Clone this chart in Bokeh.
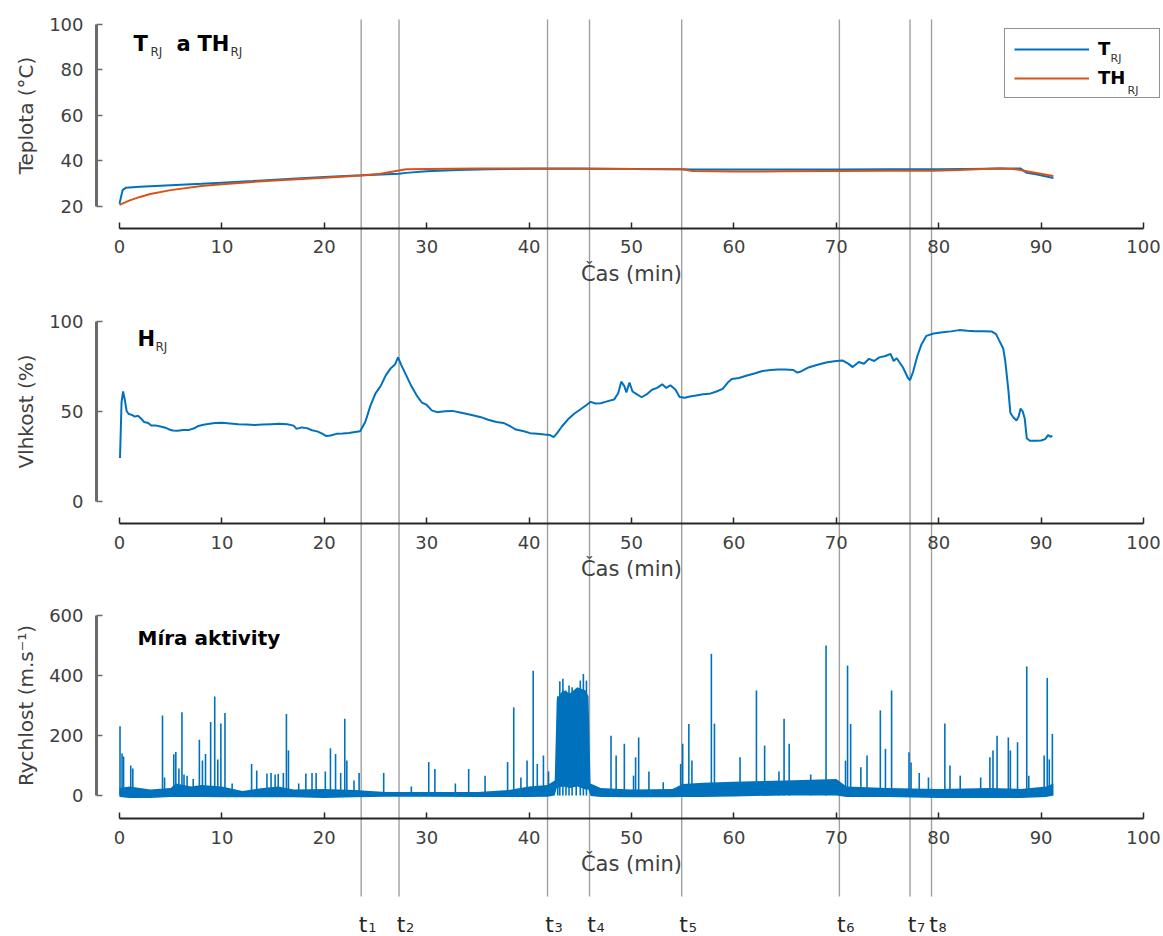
from bokeh.plotting import figure
from bokeh.models import Range1d, LinearAxis, FixedTicker, Label, Legend, LegendItem
from bokeh.core.properties import value
from bokeh.embed import file_html
from bokeh.resources import INLINE

# ---------------- data ----------------
x_ticks = [0, 10, 20, 30, 40, 50, 60, 70, 80, 90, 100]
temp_ticks = [20, 40, 60, 80, 100]
hum_ticks = [0, 50, 100]
act_ticks = [0, 200, 400, 600]

# event markers (min)
event_times = [23.6, 27.3, 41.8, 45.9, 54.9, 70.3, 77.2, 79.3]
event_labels = ["1", "2", "3", "4", "5", "6", "7", "8"]

# temperature T_RJ
t_rj_time = [0, 0.3, 0.6, 2, 5, 8, 10, 13, 16, 20, 23.6, 25, 27.3, 28, 30, 33, 36, 40, 45, 50,
             54.9, 56, 60, 65, 70, 75, 80, 85, 88, 88.6, 89.5, 91.2]
t_rj = [21, 27, 28, 28.5, 29.2, 29.8, 30.3, 31, 31.8, 32.8, 33.5, 33.8, 34.2, 34.6, 35.3, 35.9,
        36.2, 36.4, 36.4, 36.3, 36.2, 36.1, 36.1, 36.1, 36.1, 36.2, 36.2, 36.4, 36.5, 34.6, 34.0, 32.3]
# temperature TH_RJ
th_rj_time = [0, 0.5, 1, 2, 3, 5, 8, 10, 13, 16, 20, 23.6, 25.5, 27, 28, 30, 35, 40, 45, 50,
              54.9, 56, 60, 65, 70, 75, 79.5, 82, 86, 87.5, 89, 91.2]
th_rj = [20.5, 21.5, 22.5, 24, 25.3, 27, 28.8, 29.6, 30.6, 31.5, 32.5, 33.4, 34.2, 35.4, 36.2,
         36.3, 36.5, 36.5, 36.5, 36.3, 36.2, 35.4, 35.2, 35.3, 35.4, 35.5, 35.5, 35.9, 36.6, 36.2, 35, 33.2]

# humidity H_RJ
h_time = [0.05, 0.2, 0.35, 0.5, 0.7, 0.9, 1.2, 1.5, 1.8, 2.1, 2.4, 2.8, 3.1, 3.6, 4.0, 4.4, 4.8,
          5.2, 5.7, 6.2, 6.8, 7.3, 7.7, 8.2, 8.8, 9.3, 10.0, 10.8, 11.6, 12.4, 13.2, 14.0, 14.8,
          15.6, 16.4, 17.0, 17.3, 17.8, 18.3, 18.8, 19.3, 19.8, 20.2, 20.6, 21.2, 21.8, 22.4,
          23.0, 23.5, 24.0, 24.5, 25.0, 25.5, 26.0, 26.5, 26.9, 27.2, 27.5, 28.0, 28.5, 29.0,
          29.5, 30.0, 30.5, 31.0, 31.8, 32.5, 33.5, 34.5, 35.3, 36.0, 36.8, 37.5, 38.2, 38.7,
          39.4, 40.1, 40.8, 41.5, 42.0, 42.4, 42.7, 43.2, 43.8, 44.4, 45.0, 45.6, 46.0, 46.5,
          47.0, 47.6, 48.3, 48.7, 49.0, 49.3, 49.5, 49.8, 50.1, 50.5, 51.0, 51.5, 52.0, 52.5,
          53.0, 53.4, 53.8, 54.3, 54.7, 55.2, 55.7, 56.3, 57.0, 57.6, 58.3, 58.9, 59.4, 59.8,
          60.5, 61.2, 62.0, 62.8, 63.6, 64.3, 65.0, 65.8, 66.2, 66.6, 67.2, 68.0, 69.0, 69.8,
          70.6, 71.2, 71.6, 72.2, 72.7, 73.2, 73.7, 74.2, 74.8, 75.3, 75.6, 75.9, 76.5, 77.0,
          77.2, 77.5, 77.9, 78.3, 78.8, 79.5, 80.4, 81.2, 82.0, 82.8, 83.6, 84.4, 85.2, 85.6,
          85.9, 86.3, 86.5, 86.8, 87.0, 87.3, 87.6, 87.8, 88.0, 88.2, 88.4, 88.6, 88.9, 89.5,
          90.0, 90.4, 90.7, 90.9, 91.1]
h_val = [24, 55, 61, 57, 50, 48.5, 48, 47, 47.5, 46, 44, 43.5, 42, 42, 41.5, 41, 40,
         39.3, 39.2, 39.6, 39.6, 40.5, 41.8, 42.5, 43, 43.5, 43.6, 43.2, 42.8, 42.6, 42.3, 42.6, 42.8,
         43, 42.7, 42, 40.2, 41, 40.6, 39.4, 38.8, 37.5, 36.2, 36.5, 37.4, 37.6, 37.9,
         38.4, 38.8, 44, 53, 60, 64, 70, 74, 76, 80, 76, 70, 64, 59,
         55, 53.5, 50.5, 49.5, 50, 50.2, 49, 47.8, 46.7, 45.3, 44, 43.5, 41.5, 39.8,
         39.0, 37.8, 37.4, 37.0, 36.8, 35.6, 37.5, 41.5, 45.5, 48.6, 51, 53.5, 55.2, 54.3,
         54.5, 55.5, 56.5, 60, 66.5, 64, 60.5, 66, 61, 59.5, 57.8, 59.5, 62, 63,
         65, 63, 64.5, 62, 58, 57.5, 58.2, 58.8, 59.5, 59.7, 61, 62.5, 66, 68,
         68.5, 69.8, 71, 72.4, 73, 73.3, 73.2, 73.0, 71.5, 72.3, 74.2, 75.6, 77.2, 77.8,
         78.3, 76.4, 74.6, 77.4, 76.5, 79.2, 78, 80, 80.8, 82, 78, 79.5, 74.5, 68.5,
         67.3, 72, 80.5, 87, 92, 93.3, 94, 94.5, 95.2, 94.8, 94.6, 94.6, 94.4, 93,
         89.5, 85, 78, 62, 49, 46.5, 44.8, 47, 51.5, 50, 46, 35, 33.6, 33.6,
         33.7, 34.5, 36.8, 35.8, 36.3]

# activity: dense background band (time, lower, upper) and individual peaks
act_time = [0.0, 1, 3, 5, 5.5, 7, 8, 10, 12, 14, 15.5, 17, 20, 23, 26, 30, 35, 38, 40, 41.8,
            42.5, 42.7, 43.3, 44.0, 44.7, 45.5, 45.8, 46, 47, 50, 54, 55, 57, 60, 65, 70, 71,
            75, 80, 85, 88, 90.5, 91.2]
act_low = [-5, -8, -8, -5, -5, -5, -5, -6, -6, -6, -6, -6, -8, -6, -4, -4, -5, -5, -5, -4,
           0, 25, 30, 25, 30, 20, 20, -2, -5, -6, -6, -5, -5, -3, 0, 0, -5,
           -5, -8, -8, -8, -5, 0]
act_high = [25, 30, 20, 25, 40, 30, 35, 30, 15, 25, 30, 20, 22, 18, 12, 12, 12, 18, 30, 35,
            50, 320, 350, 340, 360, 350, 330, 40, 25, 20, 22, 38, 42, 46, 50, 55, 30,
            25, 22, 25, 22, 30, 40]
peak_time = [0.05, 0.25, 0.4, 1.1, 1.3, 4.2, 4.4, 5.3, 5.5, 5.8, 6.1, 6.3, 6.6, 7.2, 7.8, 8.1,
             8.4, 8.9, 9.3, 9.6, 9.9, 10.3, 11.0, 12.9, 13.4, 14.4, 14.8, 15.2, 15.5, 16.0, 16.3,
             16.5, 17.5, 18.2, 18.8, 19.2, 20.1, 20.6, 21.1, 21.6, 22.0, 22.2, 22.9, 23.4, 25.8,
             28.5, 30.2, 30.8, 32.8, 34.1, 35.7, 37.9, 38.5, 39.2, 39.8, 40.4, 40.8, 41.4, 41.9,
             42.8, 43.0, 43.3, 43.6, 43.9, 44.2, 44.6, 45.0, 45.3, 45.6, 48.0, 48.5, 49.3, 50.2,
             50.4, 50.7, 51.7, 53.1, 54.8, 55.0, 55.6, 55.9, 57.8, 58.1, 60.6, 62.2, 63.0, 64.4,
             64.9, 65.4, 67.5, 69.0, 70.9, 71.1, 71.4, 72.4, 73.0, 74.3, 74.8, 75.4, 77.1, 77.3,
             78.1, 79.0, 80.6, 81.1, 82.1, 84.1, 85.0, 85.3, 85.7, 86.8, 87.0, 87.7, 88.6, 88.8,
             90.3, 90.6, 90.8, 91.1]
peak_val = [230, 140, 130, 100, 90, 266, 60, 137, 145, 90, 277, 70, 66, 55, 185, 116,
            138, 244, 329, 120, 239, 274, 40, 105, 83, 73, 75, 70, 72, 75, 271,
            150, 40, 73, 75, 75, 80, 157, 138, 75, 255, 116, 50, 75, 75,
            30, 111, 88, 40, 88, 66, 111, 293, 60, 116, 415, 105, 133, 80,
            330, 380, 388, 349, 366, 360, 349, 382, 404, 382, 199, 133, 172, 66,
            127, 193, 80, 44, 105, 172, 238, 116, 471, 239, 127, 349, 166, 80,
            255, 172, 70, 499, 116, 432, 238, 94, 133, 283, 155, 349, 144, 110,
            75, 60, 239, 100, 66, 60, 127, 150, 199, 193, 150, 177, 429, 66,
            133, 391, 120, 205]

# ---------------- layout (page pixels) ----------------
W, H = 1163, 936
AXIS_X_PX = 96            # where the y axes stand
X0_PX, X_PX_PER_MIN = 119, 10.24
LINE_TOP, LINE_BOTTOM = 19, 896


def panel_range(v_hi, px_hi, v_lo, px_lo):
    s = (v_hi - v_lo) / (px_lo - px_hi)
    return Range1d(start=v_hi - (H - px_hi) * s, end=v_hi + px_hi * s)


def value_at(v_hi, px_hi, v_lo, px_lo, px):
    s = (v_hi - v_lo) / (px_lo - px_hi)
    return v_hi - (px - px_hi) * s


panels = [
    # name, v_hi, px_hi, v_lo, px_lo, x-axis px, ticks, y label
    ("temp", 100, 24, 20, 205.5, 227.5, temp_ticks, "Teplota (°C)"),
    ("hum", 100, 321, 0, 500.5, 523.3, hum_ticks, "Vlhkost (%)"),
    ("act", 600, 614.5, 0, 795, 818.3, act_ticks, "Rychlost (m.s⁻¹)"),
]

x_range = Range1d(-X0_PX / X_PX_PER_MIN, (W - X0_PX) / X_PX_PER_MIN)
y_axis_loc = (AXIS_X_PX - X0_PX) / X_PX_PER_MIN

p = figure(width=W, height=H, x_range=x_range, y_range=Range1d(H, 0),
           x_axis_type=None, y_axis_type=None, output_backend="svg", toolbar_location=None,
           min_border=0, outline_line_color=None,
           background_fill_color="white", border_fill_color="white")
p.extra_y_ranges = {name: panel_range(vh, ph, vl, pl) for name, vh, ph, vl, pl, *_ in panels}

FONT = "DejaVu Sans"
TXT = "#262626"
LAB = "#404040"

for name, vh, ph, vl, pl, xpx, ticks, ylab in panels:
    yax = LinearAxis(y_range_name=name, fixed_location=y_axis_loc, bounds=(vl, vh),
                     ticker=FixedTicker(ticks=ticks, minor_ticks=[]), axis_label=ylab)
    yax.axis_line_width = 3
    yax.axis_line_color = "#6a6a6a"
    yax.major_tick_line_color = "#6a6a6a"
    yax.major_tick_line_width = 1.5
    yax.major_tick_in = 6
    yax.major_tick_out = 0
    yax.minor_tick_line_color = None
    yax.major_label_standoff = 13
    yax.major_label_text_font = FONT
    yax.major_label_text_font_size = "18px"
    yax.major_label_text_color = LAB
    yax.axis_label_text_font = FONT
    yax.axis_label_text_font_size = "20px"
    yax.axis_label_text_font_style = "normal"
    yax.axis_label_text_color = LAB
    yax.axis_label_standoff = 8
    p.add_layout(yax, "left")

    xax = LinearAxis(y_range_name=name, fixed_location=value_at(vh, ph, vl, pl, xpx),
                     bounds=(0, 100), ticker=FixedTicker(ticks=x_ticks, minor_ticks=[]),
                     axis_label="Čas (min)")
    xax.axis_line_width = 2
    xax.axis_line_color = TXT
    xax.major_tick_line_color = TXT
    xax.major_tick_line_width = 1.5
    xax.major_tick_in = 6
    xax.major_tick_out = 0
    xax.minor_tick_line_color = None
    xax.major_label_standoff = 12
    xax.major_label_text_font = FONT
    xax.major_label_text_font_size = "18px"
    xax.major_label_text_color = LAB
    xax.axis_label_text_font = FONT
    xax.axis_label_text_font_size = "21px"
    xax.axis_label_text_font_style = "normal"
    xax.axis_label_text_color = LAB
    xax.axis_label_standoff = 5
    p.add_layout(xax, "below")

# event lines
n_ev = len(event_times)
p.segment(x0=event_times, y0=[LINE_TOP] * n_ev, x1=event_times, y1=[LINE_BOTTOM] * n_ev,
          line_color="#a0a0a0", line_width=1.4)
p.text(x=event_times, y=[924] * n_ev, text=["t"] * n_ev,
       x_offset=2, text_align="center", text_baseline="alphabetic",
       text_font=value(FONT), text_font_size="22px", text_color=TXT)
p.text(x=event_times, y=[927] * n_ev, text=event_labels,
       x_offset=7, text_align="left", text_baseline="alphabetic",
       text_font=value(FONT), text_font_size="13px", text_color=TXT)

BLUE = "#0072BD"
ORANGE = "#D95319"

# temperature
r_t = p.line(t_rj_time, t_rj, y_range_name="temp", line_color=BLUE, line_width=2)
r_th = p.line(th_rj_time, th_rj, y_range_name="temp", line_color=ORANGE, line_width=2)

# humidity
p.line(h_time, h_val, y_range_name="hum", line_color=BLUE, line_width=2)

# activity
p.varea(x=act_time, y1=act_low, y2=act_high, y_range_name="act", fill_color=BLUE)
p.segment(x0=peak_time, y0=[0] * len(peak_time), x1=peak_time, y1=peak_val,
          y_range_name="act", line_color=BLUE, line_width=1.6)

# legend (location = left, bottom measured from the frame's bottom)
legend = Legend(items=[LegendItem(label="T", renderers=[r_t]),
                       LegendItem(label="TH", renderers=[r_th])],
                location=(1004, H - 98),
                padding=9, spacing=8, glyph_width=75, glyph_height=16, label_height=16,
                label_width=52, label_standoff=9, margin=0,
                label_text_font=FONT, label_text_font_size="18px",
                label_text_font_style="bold", label_text_color="black",
                border_line_color=TXT, border_line_width=1.5,
                background_fill_color="white", background_fill_alpha=0)
p.add_layout(legend)


def note(text, px, py, size, bold=False, color="black"):
    p.add_layout(Label(x=px, y=H - py, x_units="screen", y_units="screen",
                       text=text, text_font=FONT, text_font_size=size,
                       text_font_style="bold" if bold else "normal",
                       text_baseline="alphabetic", text_align="left", text_color=color))


# legend subscripts
note("RJ", 1110, 58, "11px", color="#333333")
note("RJ", 1127, 90, "11px", color="#333333")

# panel titles
note("T", 133, 43, "21px", True)
note("RJ", 150, 51, "12px", color="#333333")
note("a", 176, 43, "21px", True)
note("TH", 197, 43, "21px", True)
note("RJ", 230, 51, "12px", color="#333333")

note("H", 137, 338, "21px", True)
note("RJ", 155, 346, "12px", color="#333333")

note("Míra aktivity", 137, 637, "20px", True)

open("out.html", "w").write(file_html(p, INLINE))
